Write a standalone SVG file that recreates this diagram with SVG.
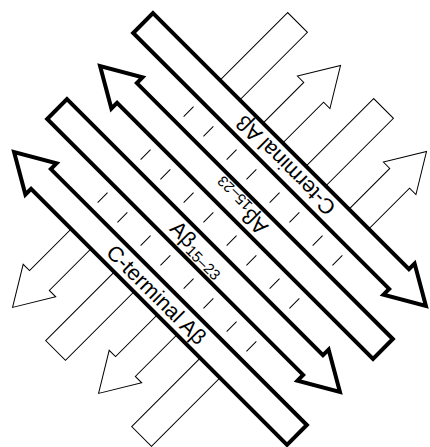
<svg xmlns="http://www.w3.org/2000/svg" width="430" height="447" viewBox="0 0 430 447">
<style>
.back{fill:#fff;stroke:#000;stroke-width:1;stroke-linejoin:miter}
.front{fill:#fff;stroke:#000;stroke-width:4;stroke-linejoin:miter;stroke-miterlimit:10}
.dash{stroke:#000;stroke-width:1;fill:none}
.lbl{font-family:"Liberation Sans",Arial,Helvetica,sans-serif;font-size:21.5px;fill:#000}
.sub{font-size:15px}
</style>
<defs>
<path id="barrow" d="M0,-14 H365 V-23 L403,0 L365,23 V14 H0 Z"/>
<path id="farrow" d="M0,-14 H362 V-22 L400,0 L362,22 V14 H0 Z"/>
</defs>
<rect width="430" height="447" fill="#fff"/>
<g id="back-sheet" transform="rotate(-45)">
<g id="back-strand-1"><use href="#barrow" class="back" transform="translate(194.5,226.27) scale(-1,1)"/></g>
<g id="back-strand-2"><use href="#barrow" class="back" transform="translate(-208.5,287.09)"/></g>
<g id="back-strand-3"><use href="#barrow" class="back" transform="translate(194.5,347.9) scale(-1,1)"/></g>
<g id="back-strand-4"><use href="#barrow" class="back" transform="translate(-208.5,408.71)"/></g>
</g>
<g id="front-sheet" transform="rotate(45)">
<rect x="117.5" y="-98.85" width="400" height="210.43" fill="#fff"/>
<g id="connectors" class="dash">
<path d="M212.27,-61.45v14M240.27,-61.45v14M273.09,-61.45v14M301.09,-61.45v14M333.9,-61.45v14M361.9,-61.45v14M394.71,-61.45v14M422.71,-61.45v14"/>
<path d="M212.27,-0.63v14M240.27,-0.63v14M273.09,-0.63v14M301.09,-0.63v14M333.9,-0.63v14M361.9,-0.63v14M394.71,-0.63v14M422.71,-0.63v14"/>
<path d="M212.27,60.18v14M240.27,60.18v14M273.09,60.18v14M301.09,60.18v14M333.9,60.18v14M361.9,60.18v14M394.71,60.18v14M422.71,60.18v14"/>
</g>
<g id="strand-1">
<use href="#farrow" class="front" transform="translate(117.5,-84.85)"/>
<text class="lbl" text-anchor="middle" x="319" y="-77.3" transform="rotate(180 319 -84.85)">C-terminal Aβ</text>
</g>
<g id="strand-2">
<use href="#farrow" class="front" transform="translate(517.5,-24.04) scale(-1,1)"/>
<text class="lbl" text-anchor="middle" x="316" y="-17.5" transform="rotate(180 316 -24.04)">Aβ<tspan class="sub" dy="4">15–23</tspan></text>
</g>
<g id="strand-3">
<use href="#farrow" class="front" transform="translate(117.5,36.77)"/>
<text class="lbl" text-anchor="middle" x="316" y="43.3">Aβ<tspan class="sub" dy="4">15–23</tspan></text>
</g>
<g id="strand-4">
<use href="#farrow" class="front" transform="translate(517.5,97.58) scale(-1,1)"/>
<text class="lbl" text-anchor="middle" x="319" y="105.1">C-terminal Aβ</text>
</g>
</g>
</svg>
